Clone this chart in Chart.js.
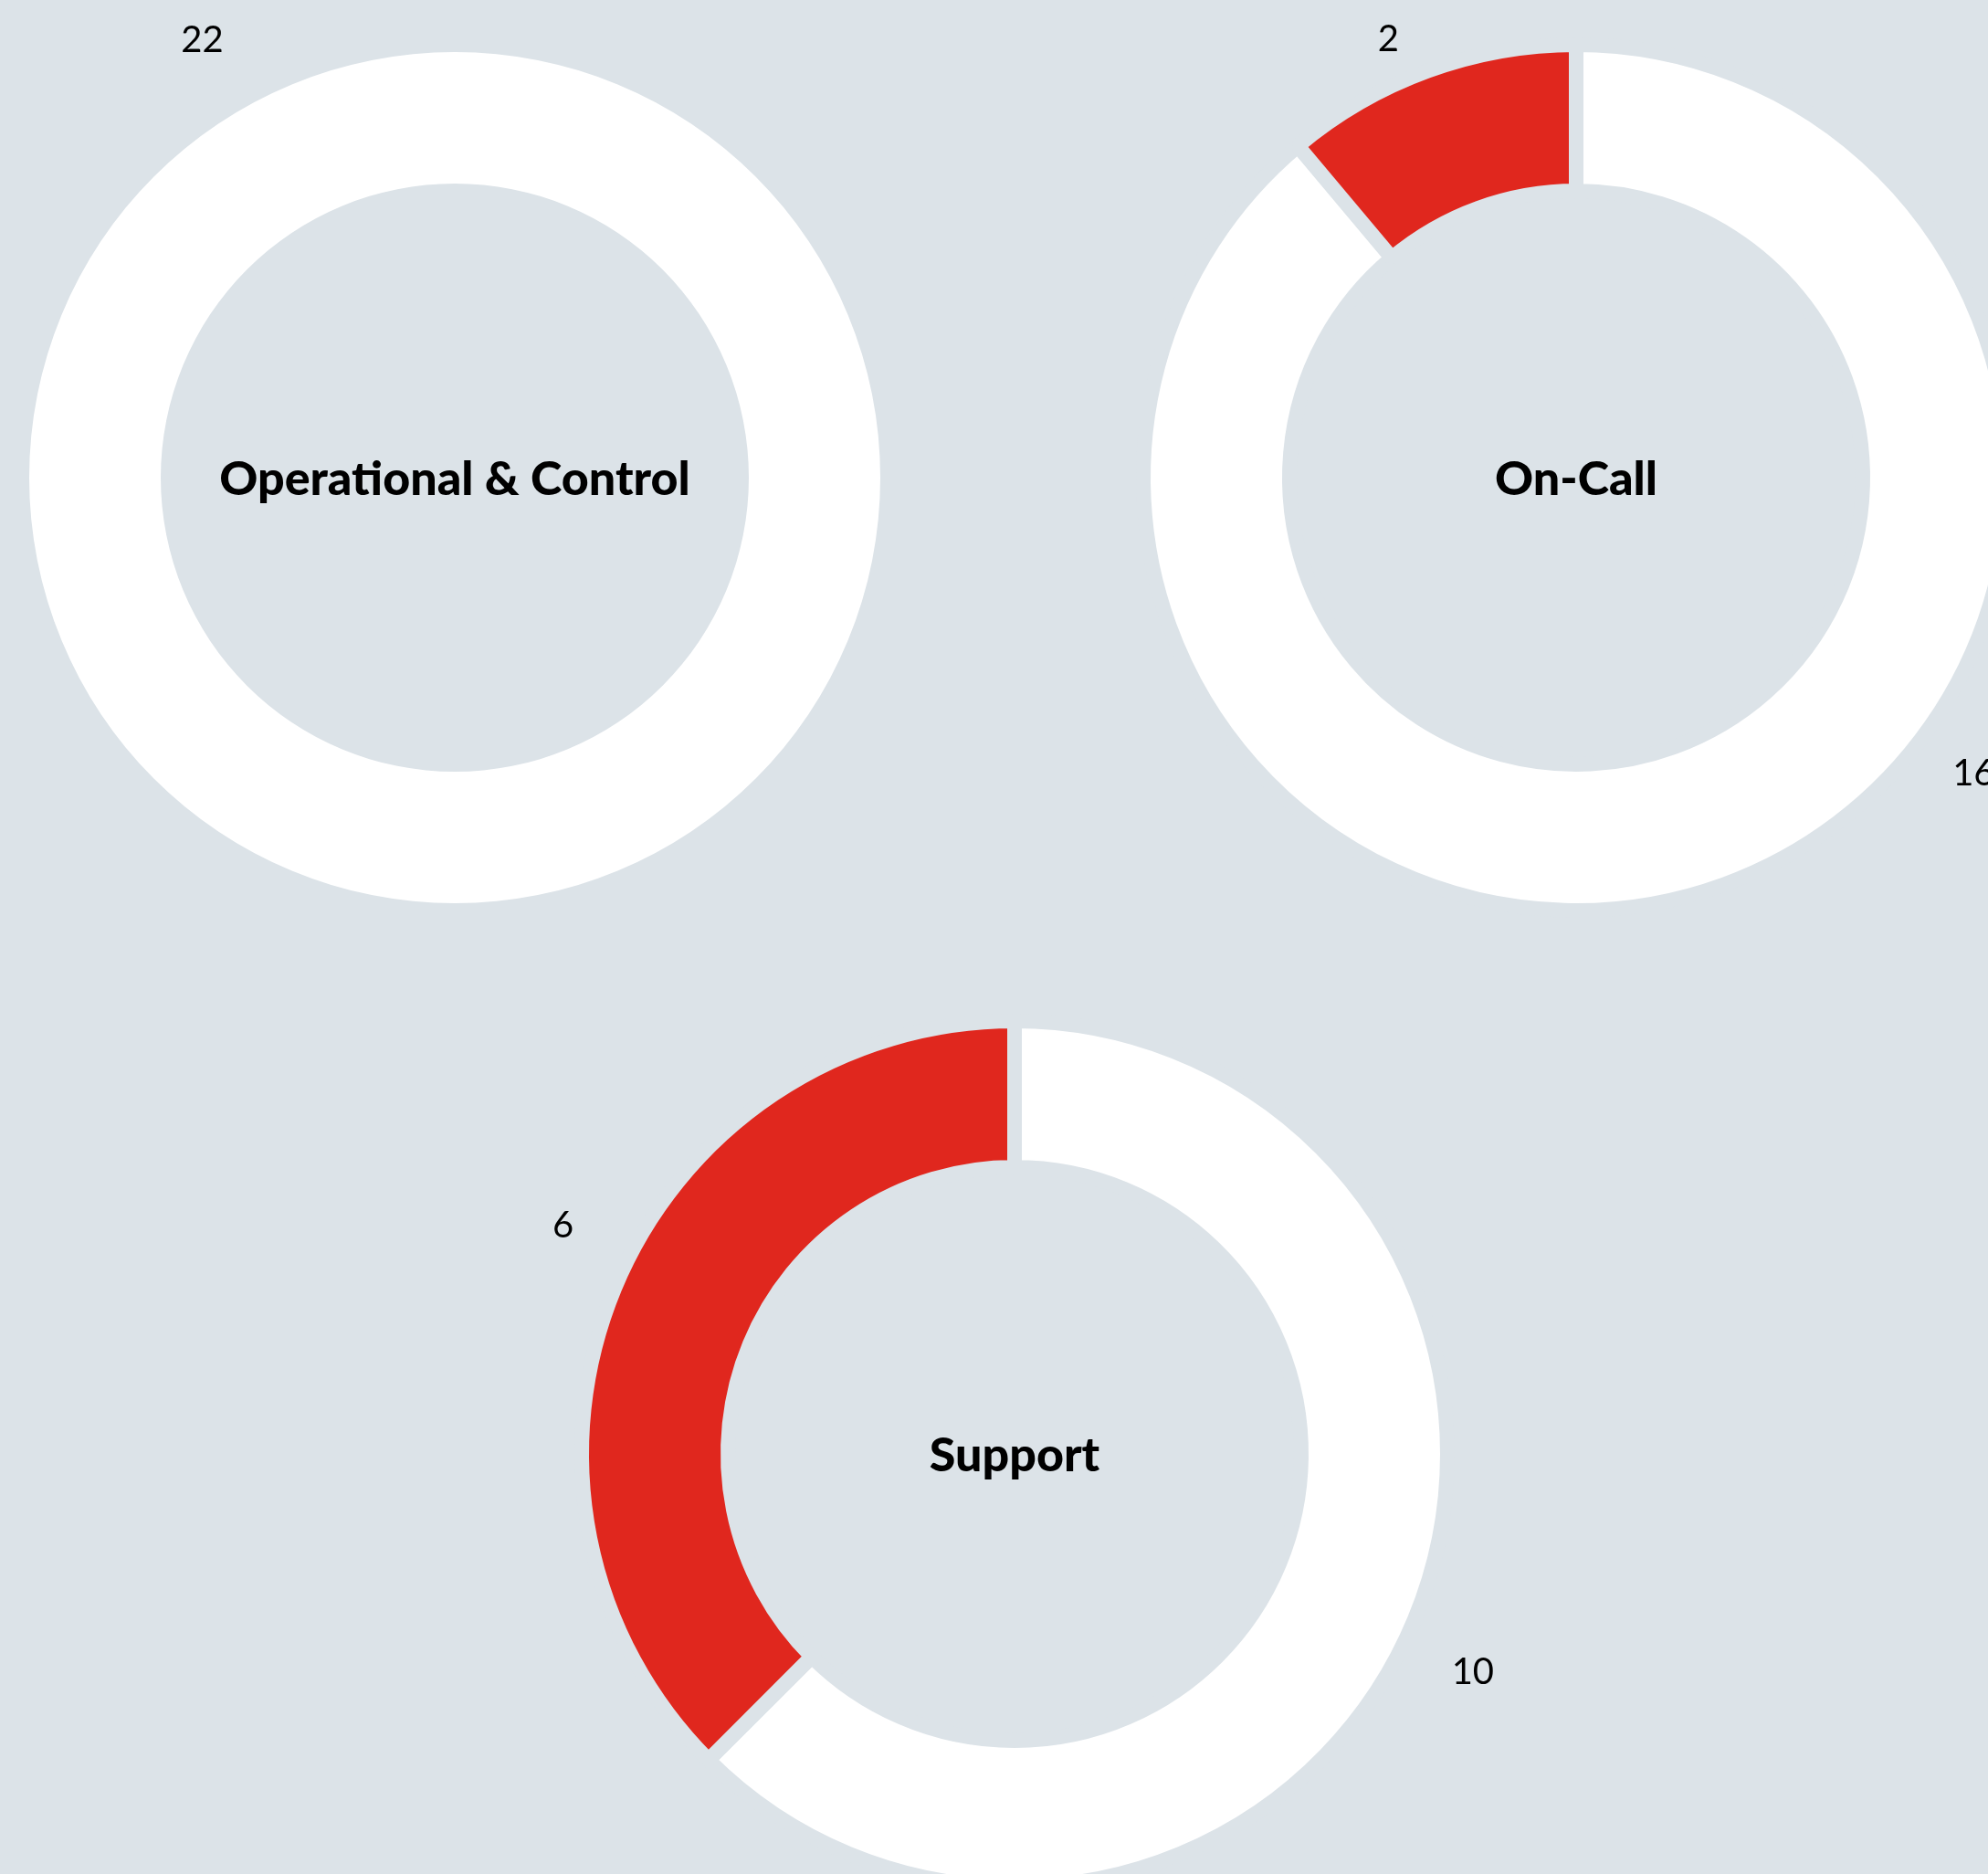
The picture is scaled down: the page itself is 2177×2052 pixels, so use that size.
<!DOCTYPE html>
<html>
<head>
<meta charset="utf-8">
<script src="https://cdn.jsdelivr.net/npm/chart.js@4.4.1/dist/chart.umd.min.js"></script>
<style>
    html, body {
        margin: 0;
        padding: 0;
        width: 2177px;
        height: 2052px;
        overflow: hidden;
        background: #dce3e8;
    }
    canvas {
        position: absolute;
    }
</style>
</head>
<body>
<canvas id="c0" width="1200" height="1200"></canvas>
<canvas id="c1" width="1200" height="1200"></canvas>
<canvas id="c2" width="1200" height="1200"></canvas>
<script>
const categories = ['Operational & Control', 'On-Call', 'Support'];
const otherCounts = [22, 16, 10];
const highlightCounts = [0, 2, 6];

const BG = '#dce3e8';
const RED = '#e0271e';
const OUTER = 466;
const INNER = 322;
const GAP = 16;

// where each ring sits on the page, and label tweaks [degrees, distance] per segment
const centers = [[498, 523], [1726, 523], [1111, 1592]];
const labelNudges = [
    [[150, 553], [0, 553]],
    [[-33.3, 543], [-3.2, 522]],
    [[3.0, 556], [4.3, 554]]
];

const ringPlugin = {
    id: 'ringText',
    afterDatasetsDraw(chart, args, opts) {
        const ctx = chart.ctx;
        const meta = chart.getDatasetMeta(0);
        const values = chart.data.datasets[0].data;
        const first = meta.data[0];
        ctx.save();
        ctx.textAlign = 'center';
        ctx.textBaseline = 'middle';
        ctx.fillStyle = '#000';
        ctx.font = '900 52px Lato';
        ctx.fillText(opts.title, first.x, first.y + 2);
        ctx.font = '40px Lato';
        meta.data.forEach((arc, i) => {
            if (!values[i]) return;
            const n = opts.nudges[i];
            const mid = (arc.startAngle + arc.endAngle) / 2 + n[0] * Math.PI / 180;
            ctx.fillText(String(values[i]), arc.x + Math.cos(mid) * n[1], arc.y + Math.sin(mid) * n[1]);
        });
        ctx.restore();
    }
};

categories.forEach((title, i) => {
    const values = [otherCounts[i], highlightCounts[i]];
    const total = values.reduce((a, b) => a + b, 0);
    const full = values.some(v => v === total);
    const bw = full ? 0 : GAP;

    const canvas = document.getElementById('c' + i);
    canvas.style.left = (centers[i][0] - 600) + 'px';
    canvas.style.top = (centers[i][1] - 600) + 'px';

    new Chart(canvas.getContext('2d'), {
        type: 'doughnut',
        data: {
            labels: ['Other', 'Highlight'],
            datasets: [{
                data: values,
                backgroundColor: ['#ffffff', RED],
                borderColor: BG,
                borderWidth: bw,
                hoverOffset: 0
            }]
        },
        options: {
            responsive: false,
            animation: false,
            events: [],
            radius: OUTER + bw / 2,
            cutout: ((INNER - bw / 2) / (OUTER + bw / 2) * 100) + '%',
            layout: { padding: 0 },
            plugins: {
                legend: { display: false },
                tooltip: { enabled: false },
                ringText: { title: title, nudges: labelNudges[i] }
            }
        },
        plugins: [ringPlugin]
    });
});
</script>
</body>
</html>
